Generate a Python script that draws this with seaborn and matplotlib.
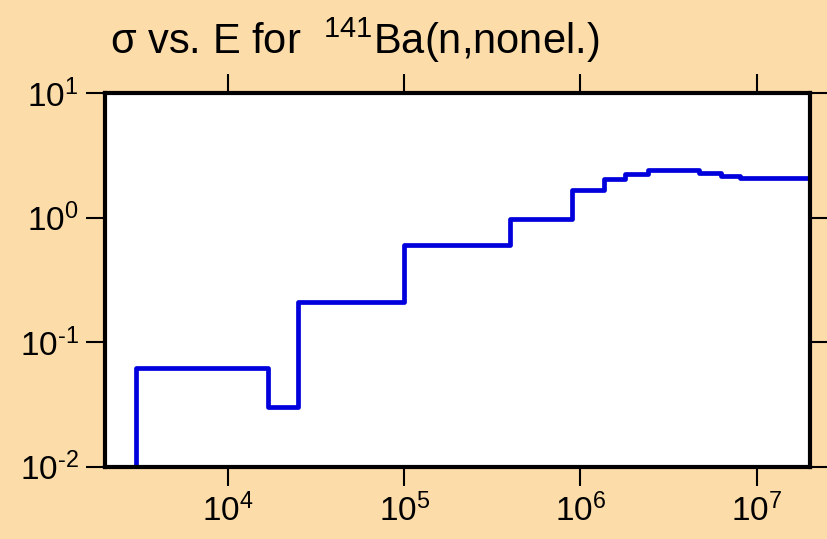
import numpy as np
import pandas as pd
import matplotlib
matplotlib.use("Agg")
import matplotlib.pyplot as plt
import matplotlib.ticker as mticker
import seaborn as sns

# bin edges (eV) and cross section (b)
energy_edges = [3e3, 1.68e4, 2.5e4, 1e5, 4.0e5, 8.9e5, 1.36e6, 1.8e6,
                2.41e6, 2.9e6, 4.69e6, 6.3e6, 8.1e6, 2e7]
sigma_values = [0.0625, 0.030, 0.211, 0.60, 0.985, 1.67, 2.03, 2.23,
                2.40, 2.44, 2.27, 2.16, 2.10]
baseline = 1e-3

x_ticks = [1e4, 1e5, 1e6, 1e7]
y_ticks = [1e-2, 1e-1, 1e0, 1e1]

sns.set_theme(style="white")
plt.rcParams["font.family"] = ["Liberation Sans", "DejaVu Sans"]
plt.rcParams["mathtext.fontset"] = "custom"
plt.rcParams["mathtext.rm"] = "Liberation Sans"
plt.rcParams["mathtext.it"] = "Liberation Sans:italic"
plt.rcParams["mathtext.bf"] = "Liberation Sans:bold"


def pow10_label(val, pos):
    # plain hyphen for negative exponents, like the reference
    e = int(round(np.log10(val)))
    s = str(e).replace("-", "\u2010")
    return rf"$10^{{{s}}}$"


# outline of the step histogram, closed down to the baseline at both ends
xs, ys = [energy_edges[0]], [baseline]
for i, v in enumerate(sigma_values):
    xs += [energy_edges[i], energy_edges[i + 1]]
    ys += [v, v]
xs.append(energy_edges[-1])
ys.append(baseline)
df = pd.DataFrame({"E": xs, "sigma": ys})

bg = "#FCDCA9"
fig = plt.figure(figsize=(8.27, 5.39), dpi=100, facecolor=bg)
ax = fig.add_axes([0.127, 0.134, 0.852, 0.693])
ax.set_facecolor("white")

sns.lineplot(data=df, x="E", y="sigma", estimator=None, sort=False,
             color="#0000DD", linewidth=3.4, ax=ax)

ax.set_xscale("log")
ax.set_yscale("log")
ax.set_xlim(2e3, 2e7)
ax.set_ylim(1e-2, 1e1)
ax.set_xlabel("")
ax.set_ylabel("")

ax.xaxis.set_major_locator(mticker.FixedLocator(x_ticks))
ax.yaxis.set_major_locator(mticker.FixedLocator(y_ticks))
ax.xaxis.set_minor_locator(mticker.NullLocator())
ax.yaxis.set_minor_locator(mticker.NullLocator())
ax.xaxis.set_major_formatter(mticker.FuncFormatter(pow10_label))
ax.yaxis.set_major_formatter(mticker.FuncFormatter(pow10_label))

ax.tick_params(which="major", direction="out", length=14, width=1.5,
               color="black", labelsize=24, labelcolor="black",
               top=True, right=True, bottom=True, left=True,
               labeltop=False, labelright=False, pad=5)

for s in ax.spines.values():
    s.set_visible(True)
    s.set_color("black")
    s.set_linewidth(3)

fig.text(0.133, 0.9, r"σ vs. E for  $^{141}$Ba(n,nonel.)", fontsize=30,
         color="black", ha="left", va="baseline")

fig.savefig("out.png", dpi=100, facecolor=bg)
